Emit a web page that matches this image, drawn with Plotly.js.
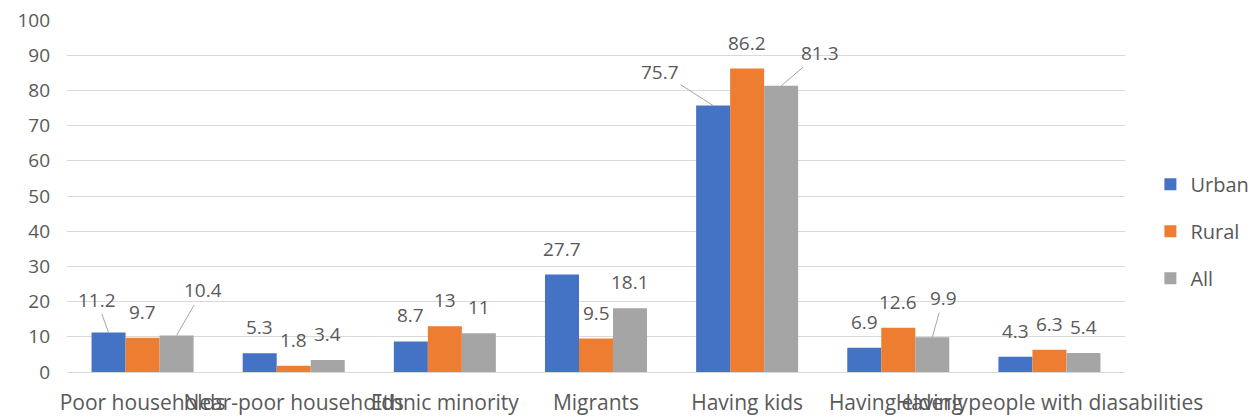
<!DOCTYPE html>
<html>
<head>
<meta charset="utf-8">
<script src="https://cdn.plot.ly/plotly-3.0.1.min.js"></script>
<style>html,body{margin:0;padding:0;background:#fff;}#chart{width:1256px;height:420px;}</style>
</head>
<body>
<div id="chart"></div>
<script>
const categories = ["Poor households", "Near-poor households", "Ethnic minority", "Migrants", "Having kids", "Having elderly", "Having people with diasabilities"];
const seriesNames = ["Urban", "Rural", "All"];
const urban = [11.2, 5.3, 8.7, 27.7, 75.7, 6.9, 4.3];
const rural = [9.7, 1.8, 13, 9.5, 86.2, 12.6, 6.3];
const all = [10.4, 3.4, 11, 18.1, 81.3, 9.9, 5.4];
const yTicks = [0, 10, 20, 30, 40, 50, 60, 70, 80, 90, 100];

const colors = ["#4472C4", "#ED7D31", "#A5A5A5"];
const values = [urban, rural, all];
const FONT = "Open Sans, Lato, sans-serif";
const TXT = "#595959";

const W = 1256, H = 420;
const margin = {l: 67, r: 131, t: 20, b: 48, autoexpand: false};
const bargap = 0.325;
const plotW = W - margin.l - margin.r;
const barW = plotW / categories.length * (1 - bargap) / 3;

// label offset overrides (style): "series-category" -> [dx, dy] with leader line
const moved = {"0-0": [-12, -33], "2-0": [26, -45], "0-4": [-53, -34], "2-4": [39, -33], "2-5": [11, -39]};

const traces = seriesNames.map((n, s) => ({
  type: "bar", name: n, x: categories, y: values[s],
  marker: {color: colors[s]}, legendgroup: n, hoverinfo: "skip"
}));

const annotations = [];
values.forEach((vals, s) => {
  const sx = (s - 1) * barW;
  vals.forEach((v, c) => {
    const key = s + "-" + c;
    const base = {x: categories[c], y: v, xref: "x", yref: "y", text: String(v),
      font: {family: FONT, size: 19, color: TXT}};
    if (moved[key]) {
      annotations.push(Object.assign(base, {showarrow: true, arrowhead: 0, arrowwidth: 1,
        arrowcolor: "#A6A6A6", standoff: 0, startstandoff: 0, xshift: sx,
        ax: moved[key][0], ay: moved[key][1]}));
    } else {
      annotations.push(Object.assign(base, {showarrow: false, xshift: sx, yshift: 26,
        xanchor: "center", yanchor: "middle"}));
    }
  });
});

const layout = {
  width: W, height: H, margin: margin,
  paper_bgcolor: "#fff", plot_bgcolor: "#fff",
  barmode: "group", bargap: bargap, bargroupgap: 0,
  font: {family: FONT, size: 19, color: TXT},
  xaxis: {type: "category", tickangle: 0, showgrid: false, showline: false, ticks: "",
    tickfont: {family: FONT, size: 21, color: TXT}, ticklabelstandoff: 16, fixedrange: true,
    automargin: false},
  yaxis: {range: [0, 100], tickvals: yTicks, ticktext: yTicks.map(String), showgrid: true,
    gridcolor: "#D9D9D9", gridwidth: 1, zeroline: true, zerolinecolor: "#D9D9D9", zerolinewidth: 1,
    showline: false, ticks: "", ticklabelstandoff: 16, automargin: false,
    tickfont: {family: FONT, size: 19, color: TXT}, fixedrange: true},
  showlegend: true,
  legend: {x: 1.024, xanchor: "left", y: 0.40, yanchor: "middle", tracegroupgap: 18,
    font: {family: FONT, size: 20, color: TXT}, bgcolor: "rgba(0,0,0,0)", itemwidth: 30},
  annotations: annotations
};

Plotly.newPlot("chart", traces, layout, {displayModeBar: false, staticPlot: true});
</script>
</body>
</html>
